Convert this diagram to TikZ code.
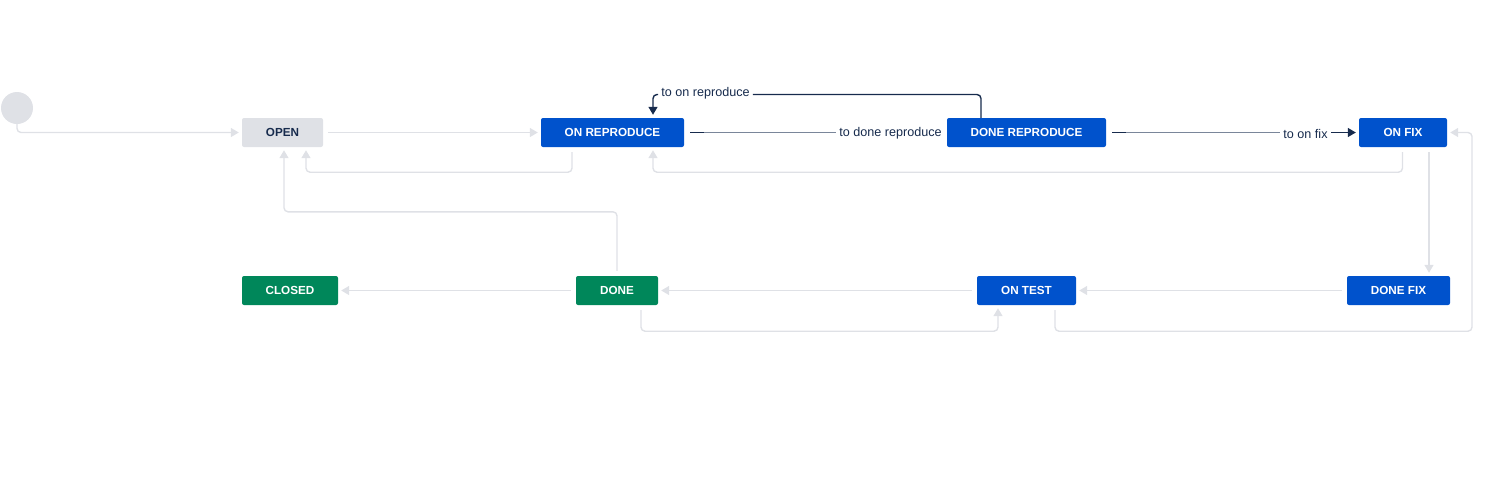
\documentclass[tikz,border=0pt]{standalone}
\usepackage{fontspec}
\setmainfont{Liberation Sans}
\usetikzlibrary{positioning,arrows.meta}
\definecolor{jirablue}{HTML}{0052CC}
\definecolor{jiragreen}{HTML}{00875A}
\definecolor{jiragrey}{HTML}{DFE1E6}
\definecolor{jiraink}{HTML}{172B4D}
\definecolor{jiraslate}{HTML}{7A869A}

\begin{document}
\begin{tikzpicture}[x=1pt,y=-1pt,
  status/.style={rounded corners=2pt,minimum height=29pt,inner sep=0pt,
    font=\fontsize{11.7}{13}\selectfont\bfseries,text=white},
  todo/.style={status,fill=jiragrey,text=jiraink},
  busy/.style={status,fill=jirablue},
  finished/.style={status,fill=jiragreen},
  lbl/.style={font=\fontsize{12.6}{14}\selectfont,text=jiraink,inner sep=3pt},
  flow/.style={jiragrey,line width=1.4pt,rounded corners=4pt,shorten <=5pt,
    -{Triangle[length=8pt,width=9pt]},shorten >=3pt},
  hot/.style={jiraink,line width=1.4pt,rounded corners=4pt},
  cold/.style={jiraslate,line width=1.4pt}]
\useasboundingbox (0,0) rectangle (1494,483);

% States
\node[circle,fill=jiragrey,minimum size=32pt,inner sep=0pt] (start) at (17,108) {};
\node[todo,minimum width=81pt] (open) at (282.5,132.5) {OPEN};
\node[busy,minimum width=143pt] (onrep) at (612.5,132.5) {ON REPRODUCE};
\node[busy,minimum width=159pt] (donerep) at (1026.5,132.5) {DONE REPRODUCE};
\node[busy,minimum width=88pt] (onfix) at (1403,132.5) {ON FIX};
\node[finished,minimum width=96pt] (closed) at (290,290.5) {CLOSED};
\node[finished,minimum width=82pt] (done) at (617,290.5) {DONE};
\node[busy,minimum width=99pt] (ontest) at (1026.5,290.5) {ON TEST};
\node[busy,minimum width=103pt] (donefix) at (1398.5,290.5) {DONE FIX};

% Plain transitions
\draw[flow,shorten <=0pt] (start.south) |- (open.west);
\draw[flow] (open.east) -- (onrep.west);
\draw[flow] ([xshift=-40.5pt]onrep.south) -- ++(0,25) -| ([xshift=23.5pt]open.south);
\draw[flow] ([xshift=-0.5pt]onfix.south) -- ++(0,25) -| ([xshift=40.5pt]onrep.south);
\draw[flow] ([xshift=26pt]onfix.south) -- ([xshift=30.5pt]donefix.north);
\draw[flow] (donefix.west) -- (ontest.east);
\draw[flow] ([xshift=28.5pt]ontest.south) -- ++(0,26) -| ++(417,-50) |- (onfix.east);
\draw[flow] (ontest.west) -- (done.east);
\draw[flow] ([xshift=24pt]done.south) -- ++(0,26) -| ([xshift=-28.5pt]ontest.south);
\draw[flow] (done.north) -- ++(0,-64) -| ([xshift=1.5pt]open.south);
\draw[flow] (done.west) -- (closed.east);

% Highlighted transitions
\node[lbl,anchor=east] (todonerep) at ([xshift=-2pt,yshift=-1pt]donerep.west) {to done reproduce};
\draw[cold,shorten <=6pt] (onrep.east) -- (todonerep.west |- onrep.east);
\draw[hot,shorten <=6pt] (onrep.east) -- ++(20,0);

\node[lbl] (toonrep) at (705.5,93.5) {to on reproduce};
\draw[hot,shorten <=0pt] ([xshift=-45.5pt]donerep.north) |- ([yshift=-1pt]toonrep.east);
\draw[hot,-{Triangle[length=8pt,width=9pt]},shorten >=3pt]
  ([yshift=-1pt]toonrep.west) -| ([xshift=40.5pt]onrep.north);

\node[lbl] (toonfix) at (1305.5,133.5) {to on fix};
\draw[cold,shorten <=6pt] (donerep.east) -- (toonfix.west |- donerep.east);
\draw[hot,shorten <=6pt] (donerep.east) -- ++(20,0);
\draw[hot,-{Triangle[length=8pt,width=9pt]},shorten >=3pt] (toonfix.east |- onfix.west) -- (onfix.west);
\end{tikzpicture}
\end{document}
